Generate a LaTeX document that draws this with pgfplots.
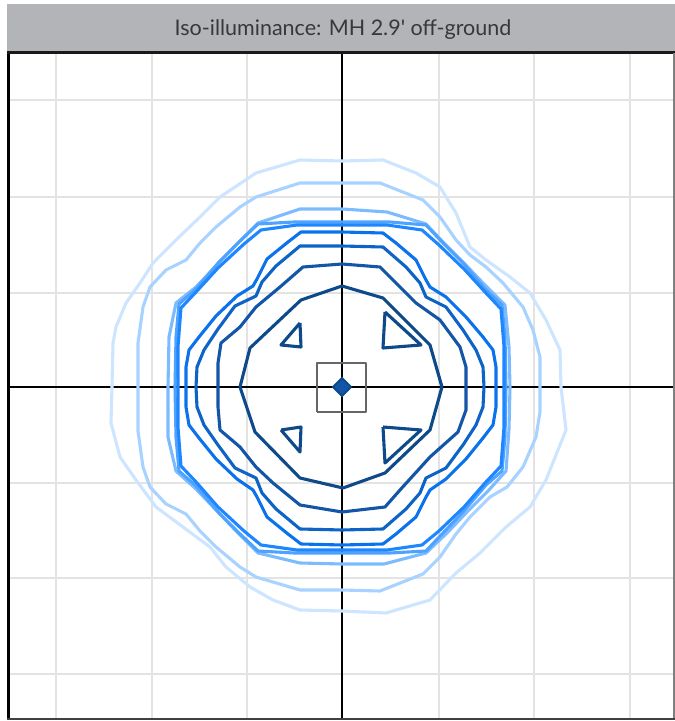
\documentclass[border=0pt]{standalone}
\usepackage{fontspec}
\setmainfont{Lato}
\usepackage{pgfplots}
\pgfplotsset{compat=1.18}
\definecolor{titlegray}{HTML}{B3B4B7}
\definecolor{titletext}{HTML}{383838}
\definecolor{gridgray}{HTML}{E3E3E3}
\definecolor{cA}{HTML}{0E4A8A}
\definecolor{cB}{HTML}{1355A6}
\definecolor{cC}{HTML}{0D63C6}
\definecolor{cD}{HTML}{0A73EC}
\definecolor{cE}{HTML}{1E86FF}
\definecolor{cF}{HTML}{4DA3FF}
\definecolor{cG}{HTML}{7DBBFF}
\definecolor{cH}{HTML}{A8D2FF}
\definecolor{cI}{HTML}{CDE5FF}
\begin{document}
\begin{tikzpicture}
\path[use as bounding box] (0,0) rectangle (675pt,721pt);
\fill[titlegray] (7pt,670pt) rectangle (675pt,717pt);
\node[anchor=base, font=\fontsize{21.5}{24}\selectfont, text=titletext] at (343pt,685pt) {Iso-illuminance: MH 2.9\textquotesingle{} off-ground};
\begin{axis}[at={(8pt,2pt)}, anchor=south west, scale only axis,
  width=666pt, height=667pt,
  xmin=-334, xmax=332, ymin=-332, ymax=335,
  xtick={-286,-190,-95,97,192,288}, ytick={-287,-191,-96,94,190,287},
  xticklabels={}, yticklabels={}, major tick length=0pt,
  grid=major, major grid style={gridgray, line width=2.6pt},
  axis line style={draw=none},
  extra x ticks={0}, extra y ticks={0}, extra x tick labels={}, extra y tick labels={},
  extra tick style={grid=major, major grid style={black, line width=2pt}},
  every axis plot/.append style={line join=round, line width=3.1pt, no markers},
]
% lightest contour
\addplot[cI] coordinates {(219,0) (218,37) (204,67) (188,94) (168,110) (144,127) (128,140) (114,174) (98,200) (74,214) (41,227) (0,226) (-42,227) (-86,214) (-122,190) (-142,170) (-166,147) (-189,124) (-202,104) (-216,84) (-226,60) (-229,44) (-230,0) (-231,-36) (-222,-70) (-206,-93) (-186,-120) (-159,-140) (-132,-160) (-116,-180) (-92,-200) (-69,-213) (-42,-223) (0,-224) (44,-226) (88,-213) (114,-186) (138,-166) (164,-140) (188,-120) (204,-93) (224,-43) (219,0)};
\addplot[cH] coordinates {(198,0) (198,30) (191,57) (181,80) (161,104) (144,120) (128,132) (114,147) (98,170) (81,187) (38,204) (0,204) (-42,204) (-86,190) (-102,180) (-126,160) (-142,144) (-156,127) (-176,117) (-192,100) (-199,80) (-204,44) (-204,0) (-204,-44) (-199,-80) (-192,-100) (-176,-117) (-156,-127) (-142,-144) (-126,-160) (-102,-180) (-86,-190) (-42,-203) (0,-203) (38,-204) (81,-187) (98,-170) (114,-147) (128,-130) (148,-110) (165,-100) (181,-80) (194,-50) (198,-25) (198,0)};
\addplot[cG] coordinates {(168,0) (167,40) (163,82) (140,105) (121,125) (100,146) (84,163) (45,175) (0,178) (-42,178) (-84,164) (-105,143) (-125,122) (-146,100) (-166,84) (-173,50) (-174,0) (-174,-50) (-166,-84) (-146,-102) (-125,-124) (-105,-145) (-84,-166) (-42,-176) (0,-177) (42,-177) (84,-166) (105,-146) (125,-125) (146,-104) (164,-84) (167,-42) (168,0)};
\addplot[cF] coordinates {(164,0) (163,50) (160,82) (144,97) (121,124) (101,144) (84,162) (48,165) (0,165) (-48,165) (-84,163) (-103,145) (-123,125) (-146,98) (-163,83) (-166,50) (-167,0) (-166,-50) (-163,-84) (-146,-99) (-123,-126) (-103,-146) (-84,-164) (-48,-166) (0,-166) (48,-166) (84,-164) (101,-146) (121,-125) (144,-98) (160,-84) (163,-50) (164,0)};
\addplot[cE] coordinates {(162,0) (162,40) (159,78) (143,95) (122,118) (97,142) (80,157) (45,162) (0,162) (-45,162) (-81,157) (-98,143) (-124,119) (-145,96) (-161,79) (-164,40) (-164,0) (-164,-40) (-161,-79) (-145,-96) (-124,-120) (-98,-144) (-81,-158) (-45,-163) (0,-163) (45,-163) (80,-158) (97,-144) (122,-120) (143,-96) (159,-79) (162,-40) (162,0)};
\addplot[cD] coordinates {(154,0) (154,20) (151,37) (141,50) (124,70) (104,90) (88,100) (84,107) (74,127) (54,144) (41,154) (0,155) (-41,155) (-54,145) (-75,128) (-85,108) (-89,101) (-105,91) (-126,71) (-143,50) (-153,37) (-156,20) (-156,0) (-156,-20) (-153,-38) (-143,-51) (-126,-72) (-105,-92) (-89,-103) (-85,-110) (-75,-130) (-54,-147) (-41,-157) (0,-158) (41,-157) (54,-147) (74,-130) (84,-110) (88,-103) (104,-92) (124,-72) (141,-51) (151,-38) (154,-20) (154,0)};
\addplot[cC] coordinates {(142,0) (141,20) (134,37) (121,57) (104,80) (84,90) (78,104) (64,120) (41,140) (0,141) (-42,141) (-66,121) (-80,105) (-86,91) (-107,81) (-124,58) (-138,37) (-145,20) (-146,0) (-145,-20) (-138,-38) (-124,-58) (-107,-81) (-86,-91) (-80,-106) (-66,-122) (-42,-142) (0,-143) (41,-142) (64,-122) (78,-106) (84,-91) (104,-81) (121,-58) (134,-38) (141,-20) (142,0)};
\addplot[cB] coordinates {(124,0) (124,20) (118,40) (98,67) (74,84) (54,104) (38,120) (0,123) (-39,120) (-62,100) (-86,80) (-102,60) (-121,44) (-124,24) (-124,0) (-124,-20) (-122,-43) (-102,-60) (-86,-80) (-69,-96) (-42,-118) (0,-125) (43,-120) (58,-103) (88,-70) (116,-45) (124,-23) (124,0)};
\addplot[cA] coordinates {(100,0) (88,42) (41,89) (0,101) (-41,87) (-92,39) (-102,0) (-87,-45) (-42,-91) (1,-101) (43,-86) (88,-43) (100,0)};
% four small triangles
\addplot[cA] coordinates {(-42,64) (-61,42) (-41,40) (-42,64)};
\addplot[cA] coordinates {(43,75) (79,42) (41,39) (43,75)};
\addplot[cA] coordinates {(-61,-43) (-41,-40) (-42,-65) (-61,-43)};
\addplot[cA] coordinates {(41,-40) (79,-43) (43,-76) (41,-40)};
% luminaire box and position
\addplot[black!60, line width=1.5pt] coordinates {(-25,-25) (24,-25) (24,24) (-25,24) (-25,-25)};
\addplot[fill=cB, draw=cA, line width=2pt, line join=miter] coordinates {(9,0) (0,9) (-9,0) (0,-9) (9,0)};
\end{axis}
\draw[black, line width=3pt] (8.5pt,1pt) -- (8.5pt,670pt);
\draw[black!90, line width=3pt] (7pt,668.5pt) -- (675pt,668.5pt);
\draw[black!50, line width=1.5pt] (674pt,1pt) -- (674pt,668pt);
\draw[black!75, line width=2pt] (7pt,1.5pt) -- (675pt,1.5pt);
\end{tikzpicture}
\end{document}
